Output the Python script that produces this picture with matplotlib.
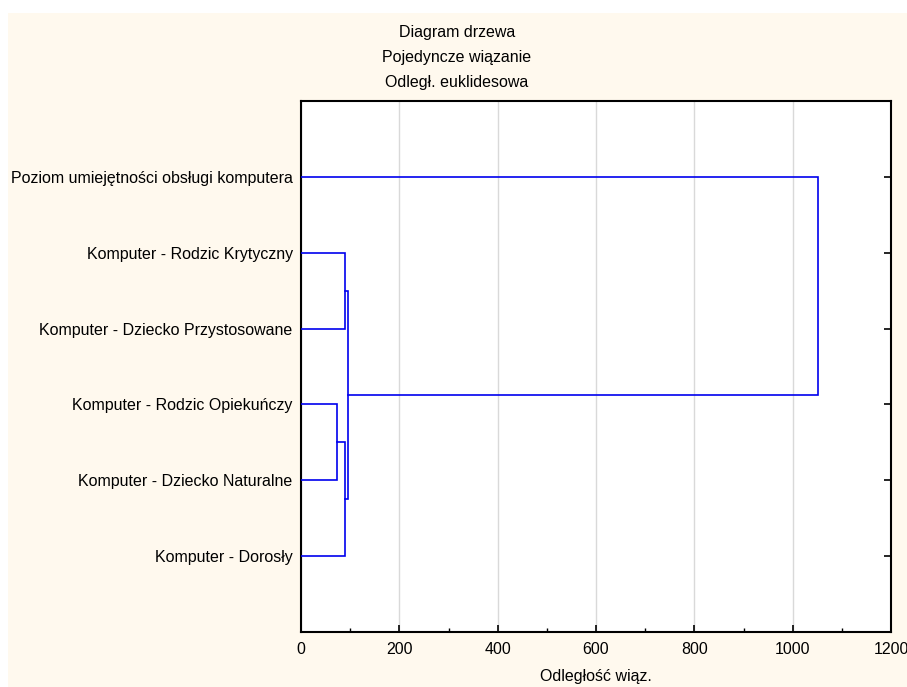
import matplotlib.pyplot as plt
from matplotlib.patches import Rectangle
from matplotlib.ticker import MultipleLocator

plt.rcParams['font.family'] = ['Liberation Sans', 'DejaVu Sans']

# liscie od gory do dolu
labels = ["Poziom umiejętności obsługi komputera",
          "Komputer - Rodzic Krytyczny",
          "Komputer - Dziecko Przystosowane",
          "Komputer - Rodzic Opiekuńczy",
          "Komputer - Dziecko Naturalne",
          "Komputer - Dorosły"]

# laczenia: (wezel1, wezel2, odleglosc) - nowe wezly numerowane od 6
merge_a = [3, 1, 6, 7, 0]
merge_b = [4, 2, 5, 8, 9]
merge_h = [72.5, 89.5, 89.0, 96.2, 1051.0]

title_lines = ["Diagram drzewa", "Pojedyncze wiązanie", "Odległ. euklidesowa"]

n = len(labels)
ys = [float(n - i) for i in range(n)]
xs = [0.0] * n

fig = plt.figure(figsize=(9.07, 6.87), dpi=100, facecolor='white')
fig.patches.append(Rectangle((8 / 907, 0), 1, 1 - 13 / 687, transform=fig.transFigure,
                             facecolor='#FFF9EE', edgecolor='none', zorder=-10))

ax = fig.add_axes([301 / 907, 1 - 632 / 687, 590 / 907, 531 / 687])
ax.set_facecolor('white')

for a, b, h in zip(merge_a, merge_b, merge_h):
    ax.plot([xs[a], h, h, xs[b]], [ys[a], ys[a], ys[b], ys[b]],
            color='#0000EE', lw=1.2, solid_joinstyle='miter', zorder=3)
    xs.append(h)
    ys.append((ys[a] + ys[b]) / 2)

ax.set_xlim(0, 1200)
ax.set_ylim(0, n + 1)
ax.xaxis.set_major_locator(MultipleLocator(200))
ax.xaxis.set_minor_locator(MultipleLocator(100))
ax.grid(axis='x', which='major', color='#D9D9D9', lw=1, zorder=0)

fs = 11.5
ax.set_yticks(ys[:n])
ax.set_yticklabels(labels, fontsize=fs)
ax.tick_params(axis='y', which='both', left=False, right=True, labelleft=True,
               direction='in', length=5, width=1.2, pad=6)
ax.tick_params(axis='x', which='major', direction='in', length=5, width=1.2,
               labelsize=fs, pad=7)
ax.tick_params(axis='x', which='minor', direction='in', length=3, width=1)

for s in ax.spines.values():
    s.set_linewidth(1.5)
    s.set_color('black')

ax.set_xlabel("Odległość wiąz.", fontsize=fs)
ax.xaxis.set_label_coords(0.5, (632 - 677) / 531)
ax.xaxis.label.set_va('center')

for i, t in enumerate(title_lines):
    fig.text(457 / 907, 1 - (33 + 24.5 * i) / 687, t, ha='center', va='center', fontsize=fs)

fig.savefig("out.png", dpi=100, facecolor=fig.get_facecolor())
